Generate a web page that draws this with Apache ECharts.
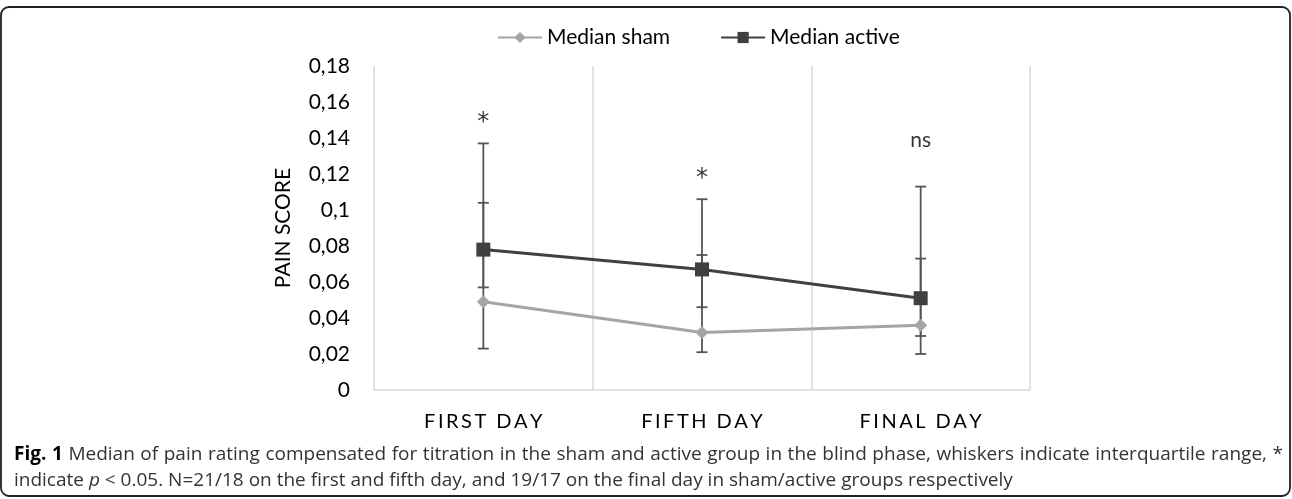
<!DOCTYPE html>
<html>
<head>
<meta charset="utf-8">
<script src="https://cdn.jsdelivr.net/npm/echarts@6/dist/echarts.min.js"></script>
<style>
  html, body { margin: 0; padding: 0; background: #fff; }
  #main { width: 1292px; height: 499px; }
</style>
</head>
<body>
<div id="main"></div>
<script>
// data
const days = ['FIRST DAY', 'FIFTH DAY', 'FINAL DAY'];
const shamMedian = [0.049, 0.032, 0.036];
const shamQ1 = [0.023, 0.021, 0.020];
const shamQ3 = [0.104, 0.075, 0.073];
const activeMedian = [0.078, 0.067, 0.051];
const activeQ1 = [0.057, 0.046, 0.030];
const activeQ3 = [0.137, 0.106, 0.113];
const sigMarks = ['*', '*', 'ns'];
const sigLevel = [0.150, 0.119, 0.139];
const yTicks = [0, 0.02, 0.04, 0.06, 0.08, 0.1, 0.12, 0.14, 0.16, 0.18];

const captionBold = 'Fig. 1';
const captionLine1 = 'Median of pain rating compensated for titration in the sham and active group in the blind phase, whiskers indicate interquartile range, *';
const captionLine2 = 'indicate {i|p} < 0.05. N=21/18 on the first and fifth day, and 19/17 on the final day in sham/active groups respectively';

// spread letters like the original axis labels
const spaced = s => s.split('').join('\u2009');

const chart = echarts.init(document.getElementById('main'));

// error bar drawer: [categoryIndex, low, high]
function whisker(params, api) {
  const x = api.value(0);
  const lo = api.coord([x, api.value(1)]);
  const hi = api.coord([x, api.value(2)]);
  const half = 5.5;
  const style = { stroke: '#555555', lineWidth: 1.8 };
  return {
    type: 'group',
    children: [
      { type: 'line', shape: { x1: lo[0], y1: lo[1], x2: hi[0], y2: hi[1] }, style },
      { type: 'line', shape: { x1: lo[0] - half, y1: lo[1], x2: lo[0] + half, y2: lo[1] }, style },
      { type: 'line', shape: { x1: hi[0] - half, y1: hi[1], x2: hi[0] + half, y2: hi[1] }, style }
    ]
  };
}

const font = 'Lato, "Open Sans", sans-serif';
const capFont = '"Open Sans", sans-serif';
const capSize = 19;

// first caption line is justified to the box width
const ctx = document.createElement('canvas').getContext('2d');
function fontOf(bold) { return (bold ? 'bold ' : '') + capSize + 'px ' + capFont; }
const words1 = captionBold.split(' ').map(t => ({ t, b: true }))
  .concat(captionLine1.split(' ').map(t => ({ t, b: false })));
const wordW = words1.map(w => { ctx.font = fontOf(w.b); return ctx.measureText(w.t).width; });
const lineLeft = 14, lineRight = 1283;
const natural = wordW.reduce((a, b) => a + b, 0);
const gap = (lineRight - lineLeft - natural) / (words1.length - 1);
let cursor = lineLeft;
const captionWords = words1.map((w, i) => {
  const el = {
    type: 'text',
    x: cursor,
    y: 455,
    silent: true,
    style: {
      text: w.t,
      font: fontOf(w.b),
      fill: w.b ? '#000' : '#333',
      textAlign: 'left',
      textVerticalAlign: 'middle'
    }
  };
  cursor += wordW[i] + gap;
  return el;
});

const option = {
  animation: false,
  textStyle: { fontFamily: font },
  legend: {
    top: 22,
    left: 492,
    itemGap: 50,
    itemWidth: 44,
    itemHeight: 14,
    textStyle: { fontSize: 21, color: '#000', fontFamily: font },
    data: ['Median sham', 'Median active']
  },
  grid: { left: 374, right: 262, top: 66, bottom: 109 },
  xAxis: {
    type: 'category',
    data: days,
    boundaryGap: true,
    axisLine: { show: true, lineStyle: { color: '#D9D9D9', width: 1.5 } },
    axisTick: { show: false },
    splitLine: { show: true, lineStyle: { color: '#D9D9D9', width: 1.5 } },
    axisLabel: {
      margin: 22,
      fontSize: 20,
      color: '#000',
      fontFamily: font,
      formatter: v => spaced(v)
    }
  },
  yAxis: {
    type: 'value',
    min: 0,
    max: yTicks[yTicks.length - 1],
    interval: 0.02,
    name: 'PAIN SCORE',
    nameLocation: 'middle',
    nameGap: 80,
    nameRotate: 90,
    nameTextStyle: { fontSize: 21, color: '#000', fontFamily: font },
    axisLine: { show: false },
    axisTick: { show: false },
    splitLine: { show: false },
    axisLabel: {
      margin: 24,
      fontSize: 21,
      color: '#000',
      fontFamily: font,
      formatter: v => String(+v.toFixed(2)).replace('.', ',')
    }
  },
  series: [
    {
      name: 'sham IQR',
      type: 'custom',
      renderItem: whisker,
      data: days.map((d, i) => [i, shamQ1[i], shamQ3[i]]),
      z: 1
    },
    {
      name: 'active IQR',
      type: 'custom',
      renderItem: whisker,
      data: days.map((d, i) => [i, activeQ1[i], activeQ3[i]]),
      z: 1
    },
    {
      name: 'Median sham',
      type: 'line',
      data: shamMedian,
      symbol: 'diamond',
      symbolSize: 13,
      color: '#A5A5A5',
      lineStyle: { width: 3, color: '#A5A5A5' },
      itemStyle: { color: '#A5A5A5' },
      z: 3
    },
    {
      name: 'Median active',
      type: 'line',
      data: activeMedian,
      symbol: 'rect',
      symbolSize: 14,
      color: '#404040',
      lineStyle: { width: 3, color: '#404040' },
      itemStyle: { color: '#404040' },
      z: 4
    },
    {
      name: 'significance',
      type: 'scatter',
      symbolSize: 0,
      data: days.map((d, i) => [i, sigLevel[i], sigMarks[i]]),
      label: {
        show: true,
        position: 'inside',
        formatter: p => p.value[2] === '*' ? '{star|*}' : p.value[2],
        fontSize: 21,
        color: '#000',
        fontFamily: font,
        rich: {
          star: { fontSize: 24, fontFamily: '"DejaVu Sans", sans-serif', color: '#000', padding: [6, 0, 0, 0] }
        }
      },
      z: 5
    }
  ],
  graphic: [
    {
      type: 'rect',
      shape: { x: 1, y: 7, width: 1289, height: 489, r: 8 },
      style: { fill: 'none', stroke: '#222', lineWidth: 1.8 },
      silent: true
    },
    ...captionWords,
    {
      type: 'text',
      x: lineLeft,
      y: 481,
      silent: true,
      style: {
        text: captionLine2,
        font: capSize + 'px ' + capFont,
        fill: '#333',
        textVerticalAlign: 'middle',
        rich: {
          i: { fontStyle: 'italic', fontSize: capSize, fontFamily: capFont, fill: '#333' }
        }
      }
    }
  ]
};

chart.setOption(option);
</script>
</body>
</html>
